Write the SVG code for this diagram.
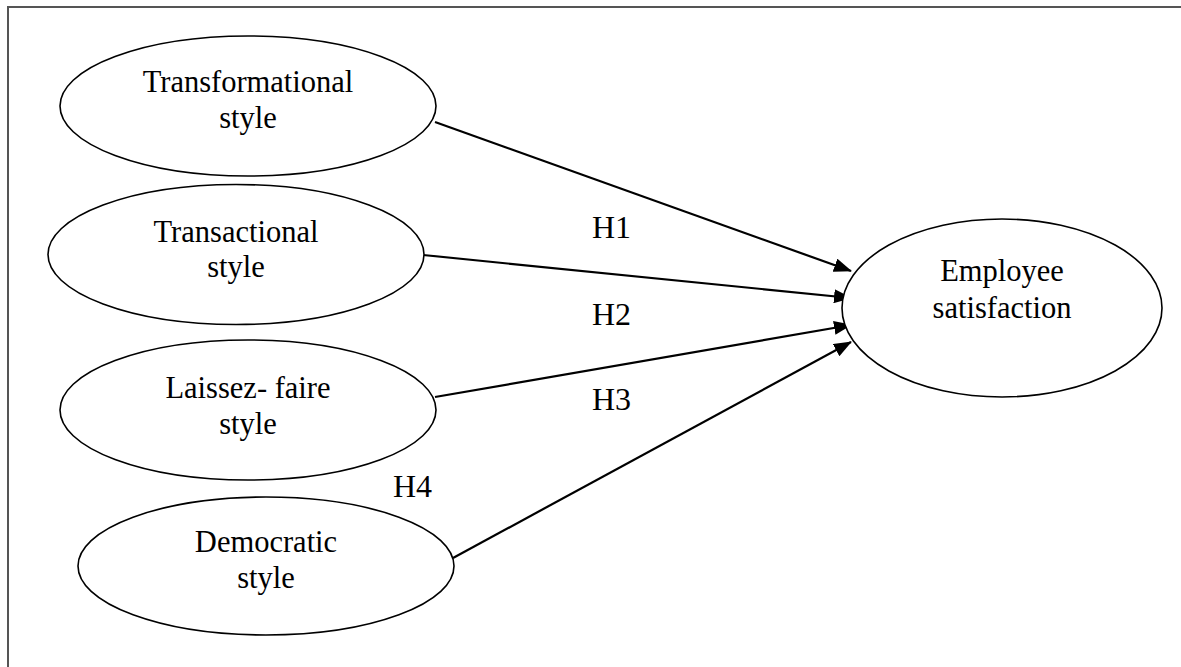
<svg xmlns="http://www.w3.org/2000/svg" width="1181" height="667" viewBox="0 0 1181 667">
<style>
.node ellipse{fill:#fff;stroke:#000;stroke-width:1.6}
.node text{font-family:"Liberation Serif","Times New Roman",serif;font-size:30.5px;fill:#000;text-anchor:middle}
.lbl{font-family:"Liberation Serif","Times New Roman",serif;font-size:32px;fill:#000}
.edge{stroke:#000;stroke-width:2.2;fill:none;marker-end:url(#arr)}
.frame{stroke:#555;stroke-width:2;fill:none}
</style>
<defs>
<marker id="arr" markerUnits="userSpaceOnUse" markerWidth="18" markerHeight="14" refX="17" refY="7" orient="auto">
<path d="M0,0 L18,7 L0,14 z" fill="#000"/>
</marker>
</defs>
<rect width="1181" height="667" fill="#fff"/>
<path class="frame" d="M8,667 V7 H1181"/>
<g id="connectors">
<line class="edge" x1="435" y1="122" x2="851" y2="271"/>
<line class="edge" x1="423" y1="255" x2="851" y2="298"/>
<line class="edge" x1="435" y1="397" x2="851" y2="325"/>
<line class="edge" x1="453" y1="558" x2="851" y2="342"/>
</g>
<g id="labels">
<text class="lbl" x="592" y="238">H1</text>
<text class="lbl" x="592" y="325">H2</text>
<text class="lbl" x="592" y="410">H3</text>
<text class="lbl" x="393" y="497">H4</text>
</g>
<g id="transformational" class="node">
<ellipse cx="248" cy="106" rx="188" ry="70"/>
<text x="248" y="92">Transformational</text>
<text x="248" y="128">style</text>
</g>
<g id="transactional" class="node">
<ellipse cx="236" cy="254.5" rx="188" ry="70"/>
<text x="236" y="242">Transactional</text>
<text x="236" y="277">style</text>
</g>
<g id="laissez-faire" class="node">
<ellipse cx="248" cy="410" rx="188" ry="70"/>
<text x="248" y="398">Laissez- faire</text>
<text x="248" y="434">style</text>
</g>
<g id="democratic" class="node">
<ellipse cx="266" cy="566" rx="188" ry="69"/>
<text x="266" y="552">Democratic</text>
<text x="266" y="588">style</text>
</g>
<g id="employee-satisfaction" class="node">
<ellipse cx="1002" cy="308" rx="160" ry="89"/>
<text x="1002" y="281">Employee</text>
<text x="1002" y="318">satisfaction</text>
</g>
</svg>
